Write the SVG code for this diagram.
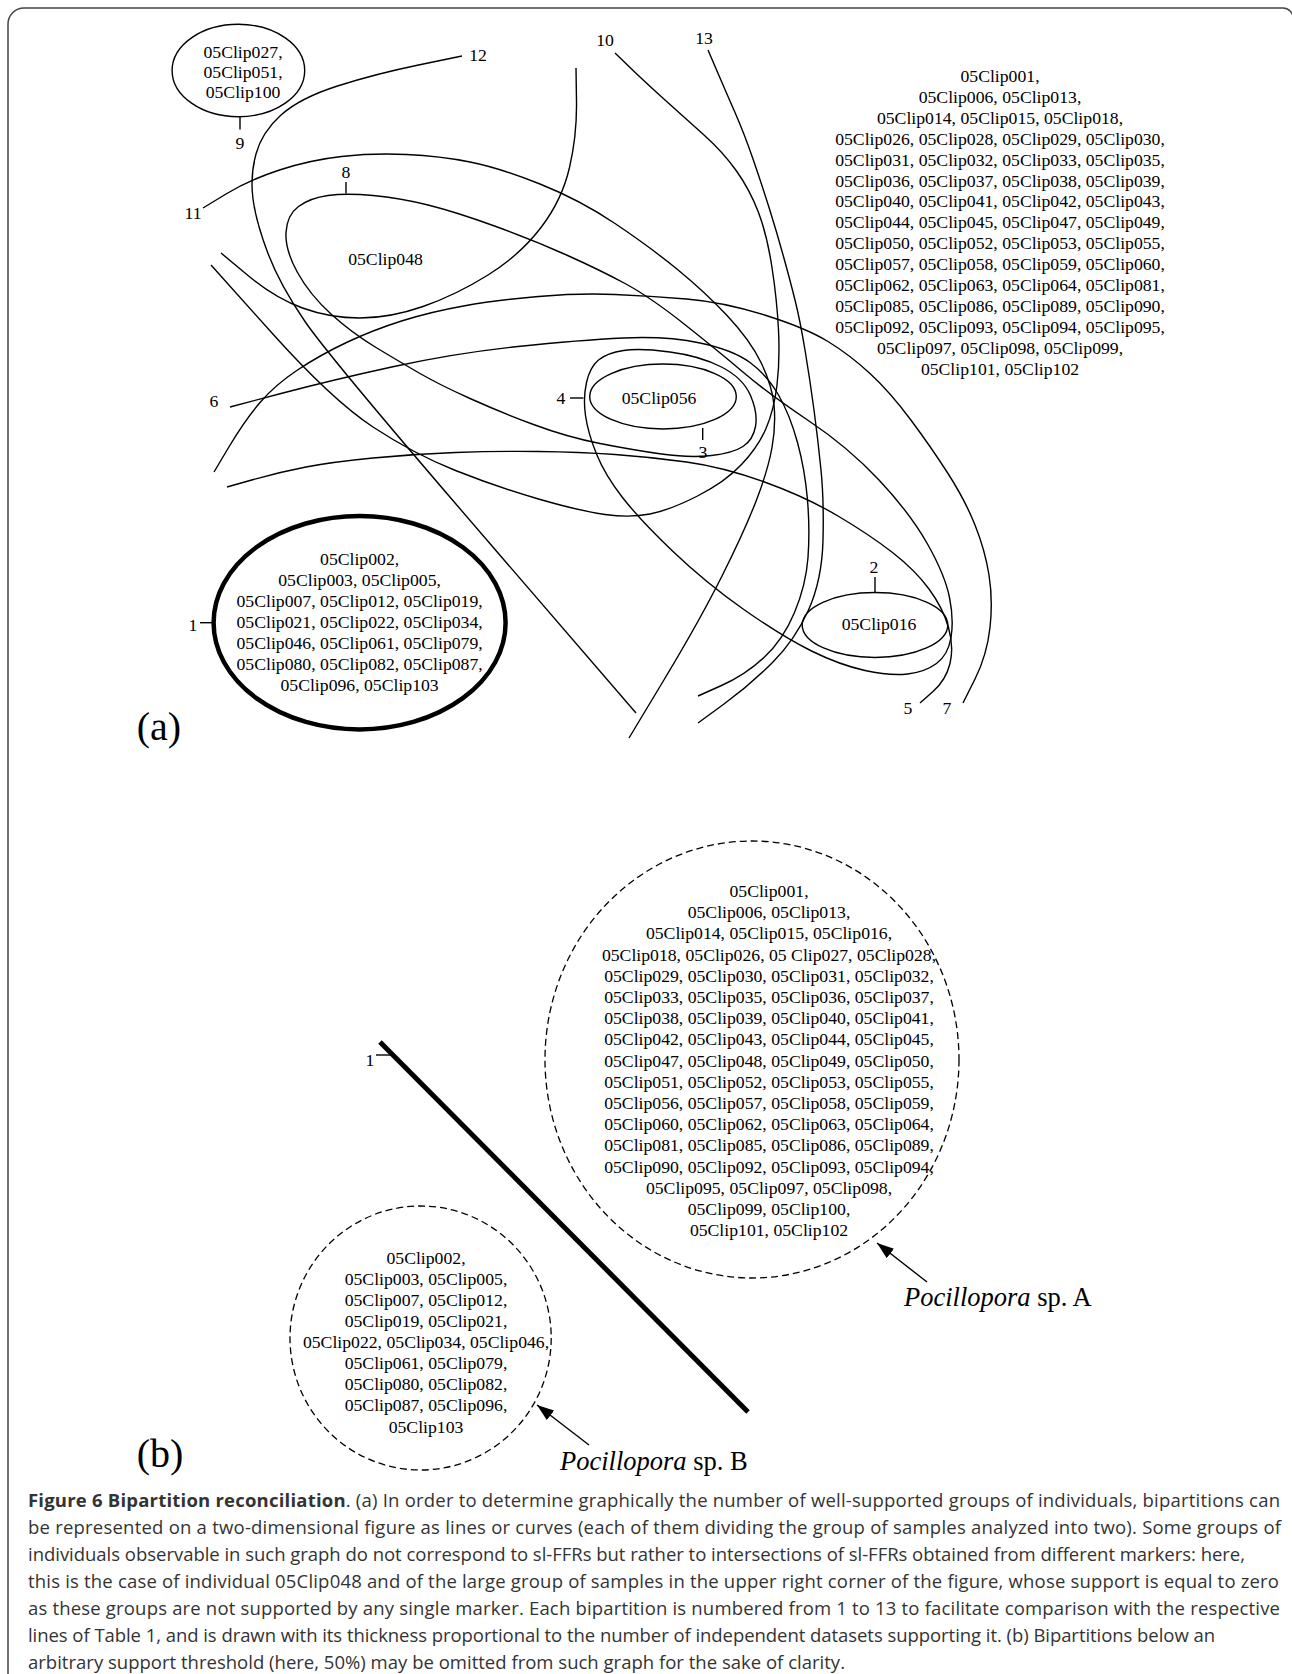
<svg xmlns="http://www.w3.org/2000/svg" width="1292" height="1674" viewBox="0 0 1292 1674">
<style>
.t{font-family:"Liberation Serif","Times New Roman",serif;font-size:17.7px;fill:#000;text-anchor:middle}
.big{font-family:"Liberation Serif","Times New Roman",serif;font-size:40px;fill:#000;text-anchor:middle}
.sp{font-family:"Liberation Serif","Times New Roman",serif;font-size:26.5px;fill:#000}
.c{fill:none;stroke:#000;stroke-width:1.4}
.k{fill:none;stroke:#000;stroke-width:1.4}
.d{fill:none;stroke:#000;stroke-width:1.3;stroke-dasharray:7,4}
.cap{font-family:"Open Sans","Noto Sans",sans-serif;font-size:18.5px;fill:#333}
</style>
<defs>
<marker id="ah" markerWidth="17" markerHeight="12" refX="17" refY="6" orient="auto" markerUnits="userSpaceOnUse"><path d="M0,0 L17,6 L0,12 z" fill="#000"/></marker>
</defs>
<rect width="1292" height="1674" fill="#fff"/>
<path id="frame" d="M8,1680 L8,24 A16,16 0 0 1 24,8 L1283,8 A10,10 0 0 1 1293,18" fill="none" stroke="#444" stroke-width="1.5"/>

<g id="connectors">
<path id="curve-U" class="c" d="M576,68 L576.5,101.5 Q577,135 569.5,167.5 Q562,200 541,227.5 Q520,255 488,275 Q456,295 423,306.5 Q390,318 360,318 Q330,318 302.5,308 Q275,298 248,275.5 L221,253"/>
<path id="curve-12" class="c" d="M462,56 L418.5,65 Q375,74 337.5,86 Q300,98 281,115 Q262,132 256,154 Q250,176 253,199 Q256,222 268,253.5 Q280,285 305,321.5 Q330,358 483,535.5 L636,713"/>
<path id="curve-10" class="c" d="M615,53 L630,67.5 Q645,82 665,100 Q685,118 704,135 Q723,152 736.5,171 Q750,190 758.5,212.5 Q767,235 772,267.5 Q777,300 778.5,330 Q780,360 777,385 Q774,410 766,428.5 Q758,447 741.5,464.5 Q725,482 697.5,496 Q670,510 650,514 Q630,518 605,514.5 Q580,511 538.5,499 Q497,487 455.5,470.5 Q414,454 373,427 Q332,400 271.5,332.5 L211,265"/>
<path id="curve-11" class="c" d="M203,208 L226,194 Q249,180 279.5,170 Q310,160 341.5,156.5 Q373,153 406.5,154.5 Q440,156 470,162 Q500,168 540,184 Q580,200 615,223.5 Q650,247 677.5,269.5 Q705,292 727.5,316 Q750,340 761,362.5 Q772,385 774,405 Q776,425 772,447.5 Q768,470 756.5,500 Q745,530 722.5,575 Q700,620 664.5,679 L629,738"/>
<path id="curve-13" class="c" d="M708,50 L717,71 Q726,92 735,112.5 Q744,133 753,159 Q762,185 769.5,209 Q777,233 783.5,256.5 Q790,280 795,300 Q800,320 805,350 Q810,380 814,410 Q818,440 821,470 Q824,500 823,540 Q822,580 808.5,610 Q795,640 772.5,662.5 Q750,685 724,704 L698,723"/>
<path id="curve-6" class="c" d="M230,407 L281,393.5 Q332,380 394,366.5 Q456,353 518,346.5 Q580,340 623.5,338 Q667,336 700,343 Q733,350 750,362.5 Q767,375 778.5,395 Q790,415 797.5,442.5 Q805,470 807.5,500 Q810,530 808,557.5 Q806,585 794.5,612.5 Q783,640 764,657.5 Q745,675 721.5,685.5 L698,696"/>
<path id="curve-7" class="c" d="M214,472 L229.5,446 Q245,420 260,402.5 Q275,385 297.5,370 Q320,355 346.5,342.5 Q373,330 401.5,321 Q430,312 463.5,306 Q497,300 538.5,296.5 Q580,293 615,294.5 Q650,296 686.5,299 Q723,302 764.5,315 Q806,328 828,341.5 Q850,355 870,373.5 Q890,392 910.5,419.5 Q931,447 948,473.5 Q965,500 975,525 Q985,550 989,575 Q993,600 990,627.5 Q987,655 975,679 L963,703"/>
<path id="curve-5" class="c" d="M227,487 L253.5,479.5 Q280,472 306,467 Q332,462 373,458 Q414,454 455.5,452.5 Q497,451 538.5,451.5 Q580,452 615,454.5 Q650,457 686.5,462 Q723,467 764.5,482 Q806,497 838,516 Q870,535 892.5,552.5 Q915,570 929,589 Q943,608 948.5,627.5 Q954,647 950,663.5 Q946,680 933,691.5 L920,703"/>
<path id="curve-8-4" class="c" d="M328,195.5 Q346,193 373,195.5 Q400,198 428,205 Q456,212 494.5,226 Q533,240 566.5,255 Q600,270 625,283.5 Q650,297 683.5,323.5 Q717,350 743.5,372.5 Q770,395 809,421 Q848,447 879,480 Q910,513 927.5,544 Q945,575 949.5,597.5 Q954,620 951,637.5 Q948,655 936.5,663.5 Q925,672 907.5,674 Q890,676 865,670.5 Q840,665 811.5,651 Q783,637 744.5,610 Q706,583 673,551.5 Q640,520 622.5,497.5 Q605,475 596.5,454 Q588,433 585.5,415.5 Q583,398 586.5,382.5 Q590,367 598.5,360 Q607,353 623.5,350.5 Q640,348 670,352 Q700,356 721.5,367 Q743,378 750.5,395.5 Q758,413 755.5,426.5 Q753,440 743,446.5 Q733,453 711.5,455.5 Q690,458 661.5,454 Q633,450 600,443.5 Q567,437 533.5,424.5 Q500,412 470,398.5 Q440,385 420,373.5 Q400,362 376,347.5 Q352,333 331,314 Q310,295 297.5,272.5 Q285,250 286,232.5 Q287,215 298.5,206.5 Q310,198 328,195.5 Z"/>
<line class="k" x1="240" y1="116.5" x2="240" y2="129.5"/>
<line class="k" x1="346" y1="182" x2="346" y2="193.5"/>
<line class="k" x1="570" y1="398" x2="583.5" y2="398"/>
<line class="k" x1="702.7" y1="428" x2="702.7" y2="440"/>
<line class="k" x1="875" y1="577" x2="875" y2="592.5"/>
<line class="k" x1="200" y1="622.7" x2="214" y2="622.7" stroke-width="2"/>
<line class="k" x1="376" y1="1055" x2="395" y2="1055"/>
<line id="arrow-a" class="k" x1="927" y1="1282" x2="877" y2="1243" marker-end="url(#ah)"/>
<line id="arrow-b" class="k" x1="589" y1="1445" x2="537" y2="1405" marker-end="url(#ah)"/>
</g>

<g id="bp9"><ellipse class="c" cx="238.4" cy="70.5" rx="66.3" ry="46.2"/>
<text class="t" x="243" y="57.7">05Clip027,</text><text class="t" x="243" y="77.7">05Clip051,</text><text class="t" x="243" y="97.7">05Clip100</text></g>

<g id="labels">
<text class="t" x="240" y="148.5">9</text>
<text class="t" x="478" y="60.5">12</text>
<text class="t" x="605" y="45.5">10</text>
<text class="t" x="704" y="43.5">13</text>
<text class="t" x="346" y="178">8</text>
<text class="t" x="193" y="219">11</text>
<text class="t" x="214" y="407">6</text>
<text class="t" x="561" y="404">4</text>
<text class="t" x="703" y="457.5">3</text>
<text class="t" x="874" y="573">2</text>
<text class="t" x="193" y="631">1</text>
<text class="t" x="908" y="714">5</text>
<text class="t" x="947" y="714">7</text>
<text class="t" x="385.5" y="265">05Clip048</text>
</g>

<g id="bp3"><ellipse class="c" cx="663" cy="396.5" rx="73.3" ry="32.5"/><text class="t" x="659" y="404">05Clip056</text></g>
<g id="bp2"><ellipse class="c" cx="875" cy="625" rx="72.8" ry="32.5"/><text class="t" x="879" y="630">05Clip016</text></g>

<g id="bp1"><ellipse cx="359.6" cy="622.7" rx="146" ry="106.7" fill="none" stroke="#000" stroke-width="4.5"/>
<text class="t" x="359.6" y="564.5">05Clip002,</text>
<text class="t" x="359.6" y="585.6">05Clip003, 05Clip005,</text>
<text class="t" x="359.6" y="606.7">05Clip007, 05Clip012, 05Clip019,</text>
<text class="t" x="359.6" y="627.8">05Clip021, 05Clip022, 05Clip034,</text>
<text class="t" x="359.6" y="648.9">05Clip046, 05Clip061, 05Clip079,</text>
<text class="t" x="359.6" y="670">05Clip080, 05Clip082, 05Clip087,</text>
<text class="t" x="359.6" y="691.1">05Clip096, 05Clip103</text>
</g>

<g id="group-upper-right">
<text class="t" x="1000" y="82">05Clip001,</text>
<text class="t" x="1000" y="102.9">05Clip006, 05Clip013,</text>
<text class="t" x="1000" y="123.8">05Clip014, 05Clip015, 05Clip018,</text>
<text class="t" x="1000" y="144.7">05Clip026, 05Clip028, 05Clip029, 05Clip030,</text>
<text class="t" x="1000" y="165.6">05Clip031, 05Clip032, 05Clip033, 05Clip035,</text>
<text class="t" x="1000" y="186.5">05Clip036, 05Clip037, 05Clip038, 05Clip039,</text>
<text class="t" x="1000" y="207.4">05Clip040, 05Clip041, 05Clip042, 05Clip043,</text>
<text class="t" x="1000" y="228.3">05Clip044, 05Clip045, 05Clip047, 05Clip049,</text>
<text class="t" x="1000" y="249.2">05Clip050, 05Clip052, 05Clip053, 05Clip055,</text>
<text class="t" x="1000" y="270.1">05Clip057, 05Clip058, 05Clip059, 05Clip060,</text>
<text class="t" x="1000" y="291">05Clip062, 05Clip063, 05Clip064, 05Clip081,</text>
<text class="t" x="1000" y="311.9">05Clip085, 05Clip086, 05Clip089, 05Clip090,</text>
<text class="t" x="1000" y="332.8">05Clip092, 05Clip093, 05Clip094, 05Clip095,</text>
<text class="t" x="1000" y="353.7">05Clip097, 05Clip098, 05Clip099,</text>
<text class="t" x="1000" y="374.6">05Clip101, 05Clip102</text>
</g>

<text class="big" x="159" y="740">(a)</text>

<g id="sp-A"><ellipse class="d" cx="752" cy="1059.5" rx="207" ry="218.5"/>
<text class="t" x="769" y="897">05Clip001,</text>
<text class="t" x="769" y="918.2">05Clip006, 05Clip013,</text>
<text class="t" x="769" y="939.4">05Clip014, 05Clip015, 05Clip016,</text>
<text class="t" x="769" y="960.6">05Clip018, 05Clip026, 05 Clip027, 05Clip028,</text>
<text class="t" x="769" y="981.8">05Clip029, 05Clip030, 05Clip031, 05Clip032,</text>
<text class="t" x="769" y="1003">05Clip033, 05Clip035, 05Clip036, 05Clip037,</text>
<text class="t" x="769" y="1024.2">05Clip038, 05Clip039, 05Clip040, 05Clip041,</text>
<text class="t" x="769" y="1045.4">05Clip042, 05Clip043, 05Clip044, 05Clip045,</text>
<text class="t" x="769" y="1066.6">05Clip047, 05Clip048, 05Clip049, 05Clip050,</text>
<text class="t" x="769" y="1087.8">05Clip051, 05Clip052, 05Clip053, 05Clip055,</text>
<text class="t" x="769" y="1109">05Clip056, 05Clip057, 05Clip058, 05Clip059,</text>
<text class="t" x="769" y="1130.2">05Clip060, 05Clip062, 05Clip063, 05Clip064,</text>
<text class="t" x="769" y="1151.4">05Clip081, 05Clip085, 05Clip086, 05Clip089,</text>
<text class="t" x="769" y="1172.6">05Clip090, 05Clip092, 05Clip093, 05Clip094,</text>
<text class="t" x="769" y="1193.8">05Clip095, 05Clip097, 05Clip098,</text>
<text class="t" x="769" y="1215">05Clip099, 05Clip100,</text>
<text class="t" x="769" y="1236.2">05Clip101, 05Clip102</text>
</g>

<g id="sp-B"><ellipse class="d" cx="420.6" cy="1338" rx="130.6" ry="132"/>
<text class="t" x="426" y="1263.7">05Clip002,</text>
<text class="t" x="426" y="1284.8">05Clip003, 05Clip005,</text>
<text class="t" x="426" y="1305.9">05Clip007, 05Clip012,</text>
<text class="t" x="426" y="1327">05Clip019, 05Clip021,</text>
<text class="t" x="426" y="1348.1">05Clip022, 05Clip034, 05Clip046,</text>
<text class="t" x="426" y="1369.2">05Clip061, 05Clip079,</text>
<text class="t" x="426" y="1390.3">05Clip080, 05Clip082,</text>
<text class="t" x="426" y="1411.4">05Clip087, 05Clip096,</text>
<text class="t" x="426" y="1432.5">05Clip103</text>
</g>

<g id="bp1-b"><line x1="380" y1="1042" x2="748" y2="1412" stroke="#000" stroke-width="5"/>
<text class="t" x="370" y="1066">1</text></g>

<text class="sp" x="904" y="1306"><tspan font-style="italic">Pocillopora</tspan> sp. A</text>
<text class="sp" x="560" y="1470"><tspan font-style="italic">Pocillopora</tspan> sp. B</text>
<text class="big" x="160" y="1467">(b)</text>

<g id="caption">
<text class="cap" x="28" y="1507" textLength="1252"><tspan font-weight="bold">Figure 6 Bipartition reconciliation</tspan>. (a) In order to determine graphically the number of well-supported groups of individuals, bipartitions can</text>
<text class="cap" x="28" y="1534" textLength="1253">be represented on a two-dimensional figure as lines or curves (each of them dividing the group of samples analyzed into two). Some groups of</text>
<text class="cap" x="28" y="1561" textLength="1217">individuals observable in such graph do not correspond to sl-FFRs but rather to intersections of sl-FFRs obtained from different markers: here,</text>
<text class="cap" x="28" y="1588" textLength="1251">this is the case of individual 05Clip048 and of the large group of samples in the upper right corner of the figure, whose support is equal to zero</text>
<text class="cap" x="28" y="1615" textLength="1252">as these groups are not supported by any single marker. Each bipartition is numbered from 1 to 13 to facilitate comparison with the respective</text>
<text class="cap" x="28" y="1642" textLength="1187">lines of Table 1, and is drawn with its thickness proportional to the number of independent datasets supporting it. (b) Bipartitions below an</text>
<text class="cap" x="28" y="1669" textLength="817">arbitrary support threshold (here, 50%) may be omitted from such graph for the sake of clarity.</text>
</g>
</svg>
